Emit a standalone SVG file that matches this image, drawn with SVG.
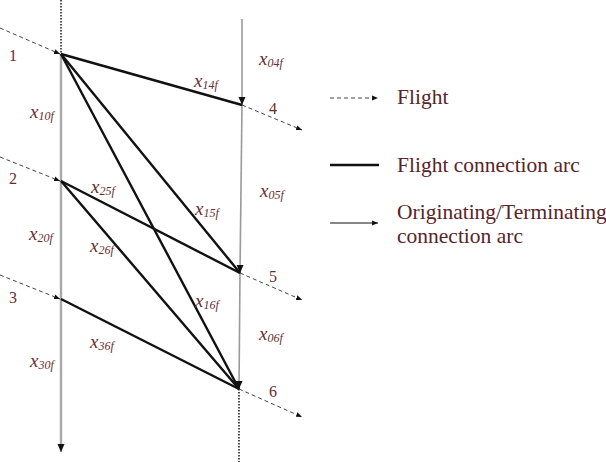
<svg xmlns="http://www.w3.org/2000/svg" width="606" height="462" viewBox="0 0 606 462">
<defs>
<marker id="ah" markerUnits="userSpaceOnUse" markerWidth="10" markerHeight="8" refX="8" refY="4" orient="auto">
<path d="M0,0.5 L8,4 L0,7.5 Z" fill="#111"/>
</marker>
<marker id="ahs" markerUnits="userSpaceOnUse" markerWidth="8" markerHeight="6" refX="6" refY="3" orient="auto">
<path d="M0,0.5 L6,3 L0,5.5 Z" fill="#111"/>
</marker>
</defs>
<style>
.flight{stroke:#444;stroke-width:1;stroke-dasharray:4 3;fill:none}
.dot{stroke:#222;stroke-width:1.6;stroke-dasharray:1.5 1.5;fill:none}
.conn{stroke:#111;stroke-width:2.4;fill:none}
.term{stroke:#9a9a9a;stroke-width:1.6;fill:none}
.termL{stroke:#a8a8a8;stroke-width:2.4;fill:none}
.num{font-family:"Liberation Serif",serif;font-size:16px;fill:#6b2c2c}
.var{font-family:"Liberation Serif",serif;font-style:italic;font-size:19px;fill:#6b2c2c}
.sub{font-size:12px}
.leg{font-family:"Liberation Serif",serif;font-size:21.5px;fill:#5a2424}
</style>
<rect width="606" height="462" fill="#fff"/>
<g id="connectors">
<line class="dot" x1="61" y1="0" x2="61" y2="54"/>
<line class="dot" x1="239" y1="389" x2="239" y2="462"/>
<line class="termL" x1="61" y1="54" x2="61" y2="452" marker-end="url(#ah)"/>
<line class="term" x1="242" y1="19" x2="242" y2="105" marker-end="url(#ah)"/>
<line class="term" x1="242" y1="105" x2="240" y2="273" marker-end="url(#ah)"/>
<line class="term" x1="240" y1="273" x2="239" y2="389" marker-end="url(#ah)"/>
<line class="flight" x1="0" y1="28" x2="60" y2="54" marker-end="url(#ahs)"/>
<line class="flight" x1="0" y1="157" x2="60" y2="181" marker-end="url(#ahs)"/>
<line class="flight" x1="0" y1="275" x2="60" y2="299" marker-end="url(#ahs)"/>
<line class="flight" x1="242" y1="105" x2="302" y2="130" marker-end="url(#ahs)"/>
<line class="flight" x1="240" y1="273" x2="302" y2="300" marker-end="url(#ahs)"/>
<line class="flight" x1="239" y1="389" x2="302" y2="417" marker-end="url(#ahs)"/>
<line class="conn" x1="61" y1="54" x2="242" y2="105"/>
<line class="conn" x1="61" y1="54" x2="240" y2="273"/>
<line class="conn" x1="61" y1="54" x2="239" y2="389"/>
<line class="conn" x1="61" y1="181" x2="240" y2="273"/>
<line class="conn" x1="61" y1="181" x2="239" y2="389"/>
<line class="conn" x1="61" y1="299" x2="239" y2="389"/>
</g>
<g id="node1"><text class="num" x="9" y="61">1</text></g>
<g id="node2"><text class="num" x="9" y="184">2</text></g>
<g id="node3"><text class="num" x="9" y="303">3</text></g>
<g id="node4"><text class="num" x="269" y="114">4</text></g>
<g id="node5"><text class="num" x="269" y="282">5</text></g>
<g id="node6"><text class="num" x="269" y="397">6</text></g>
<g id="arc-labels">
<text class="var" x="259" y="65">x<tspan class="sub" dy="2">04f</tspan></text>
<text class="var" x="194" y="87">x<tspan class="sub" dy="2">14f</tspan></text>
<text class="var" x="30" y="118">x<tspan class="sub" dy="2">10f</tspan></text>
<text class="var" x="91" y="193">x<tspan class="sub" dy="2">25f</tspan></text>
<text class="var" x="195" y="215">x<tspan class="sub" dy="2">15f</tspan></text>
<text class="var" x="260" y="197">x<tspan class="sub" dy="2">05f</tspan></text>
<text class="var" x="29" y="240">x<tspan class="sub" dy="2">20f</tspan></text>
<text class="var" x="90" y="252">x<tspan class="sub" dy="2">26f</tspan></text>
<text class="var" x="195" y="307">x<tspan class="sub" dy="2">16f</tspan></text>
<text class="var" x="259" y="340">x<tspan class="sub" dy="2">06f</tspan></text>
<text class="var" x="90" y="348">x<tspan class="sub" dy="2">36f</tspan></text>
<text class="var" x="30" y="367">x<tspan class="sub" dy="2">30f</tspan></text>
</g>
<g id="legend">
<line class="flight" x1="330" y1="98" x2="378" y2="98" stroke-dasharray="2 2" marker-end="url(#ahs)"/>
<text class="leg" x="397" y="104">Flight</text>
<line x1="330" y1="165" x2="379" y2="165" stroke="#111" stroke-width="2.4"/>
<text class="leg" x="397" y="172">Flight connection arc</text>
<line x1="330" y1="223" x2="378" y2="223" stroke="#111" stroke-width="1.2" marker-end="url(#ahs)"/>
<text class="leg" x="397" y="219">Originating/Terminating</text>
<text class="leg" x="397" y="243">connection arc</text>
</g>
</svg>
